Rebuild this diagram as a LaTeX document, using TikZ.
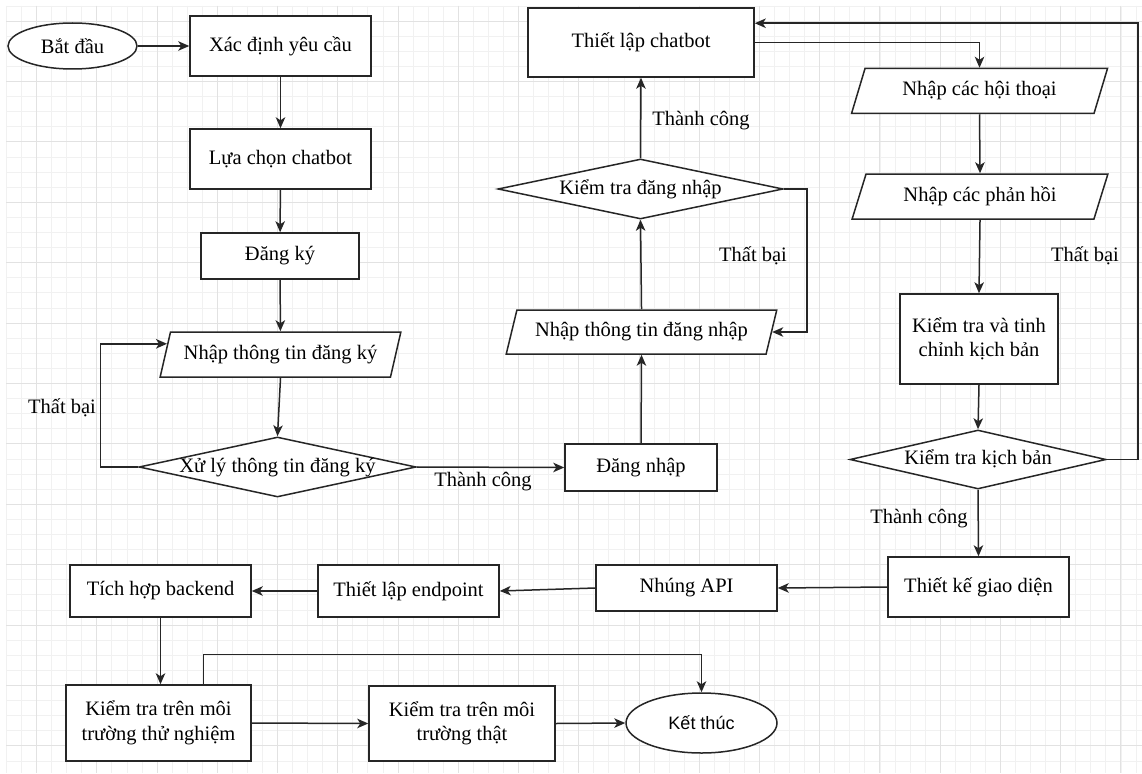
\documentclass[tikz,border=0pt]{standalone}
\usepackage{fontspec}
\setmainfont{Liberation Serif}
\newfontfamily\sansfnt{Liberation Sans}
\usetikzlibrary{shapes.geometric,arrows.meta,calc}

\definecolor{linec}{HTML}{262626}
\definecolor{gridminor}{HTML}{F1F1F1}
\definecolor{gridmajor}{HTML}{E2E2E2}

% text of a decision box: takes no room, so the diamond keeps its given size
\newcommand{\dectext}[1]{\makebox[0pt]{\raisebox{-0.55ex}[0pt][0pt]{#1}}}

\begin{document}
\begin{tikzpicture}[x=1pt,y=-1pt,
  font=\fontsize{20.5}{24.5}\selectfont,
  shapebase/.style={draw=linec, line width=1.5pt, fill=white, inner sep=0pt},
  box/.style={shapebase, rectangle, align=center},
  io/.style={shapebase, trapezium, trapezium left angle=64,
    trapezium right angle=116, trapezium stretches=true},
  dec/.style={shapebase, diamond, aspect=4.6},
  term/.style={shapebase, ellipse},
  flow/.style={draw=linec, line width=1.5pt,
    -{Stealth[length=11pt,width=9.5pt,inset=3pt]}},
  lbl/.style={inner sep=0pt}]

\useasboundingbox (0,0) rectangle (1142,773);

% background grid
\fill[white] (0,0) rectangle (1142,773);
\foreach \k in {0,...,75}{
  \draw[gridminor, line width=0.9pt] ({6.5+15.06*\k},6) -- ({6.5+15.06*\k},773);}
\foreach \k in {0,...,51}{
  \draw[gridminor, line width=0.9pt] (6,{6+15.1*\k}) -- (1142,{6+15.1*\k});}
\foreach \k in {2,6,...,74}{
  \draw[gridmajor, line width=1pt] ({6.5+15.06*\k},6) -- ({6.5+15.06*\k},773);}
\foreach \k in {1,5,...,49}{
  \draw[gridmajor, line width=1pt] (6,{6+15.1*\k}) -- (1142,{6+15.1*\k});}

% registration column
\node[term, minimum width=129pt, minimum height=46pt] (start) at (72.5,46) {Bắt đầu};
\node[box, minimum width=181pt, minimum height=60pt] (req) at (280.5,46) {Xác định yêu cầu};
\node[box, minimum width=181pt, minimum height=60pt] (choose) at (280.5,159) {Lựa chọn chatbot};
\node[box, minimum width=158pt, minimum height=46pt] (reg) at (280,256) {Đăng ký};
\node[io, minimum width=241pt, minimum height=45pt] (nreg) at (280.5,354.5) {Nhập thông tin đăng ký};
\node[dec, minimum width=277pt, minimum height=60pt] (proc) at (277.5,467)
  {\dectext{Xử lý thông tin đăng ký}};

% login column
\node[box, minimum width=152pt, minimum height=47pt] (login) at (641,467.5) {Đăng nhập};
\node[io, minimum width=271pt, minimum height=44pt] (nlogin) at (641.5,332) {Nhập thông tin đăng nhập};
\node[dec, minimum width=285pt, minimum height=60pt] (chk) at (640.5,189)
  {\dectext{Kiểm tra đăng nhập}};
\node[box, minimum width=226pt, minimum height=69pt] (setup) at (641,42.5) {Thiết lập chatbot};

% script column
\node[io, minimum width=256pt, minimum height=45pt] (nhoi) at (979.5,91) {Nhập các hội thoại};
\node[io, minimum width=256pt, minimum height=45pt] (nph) at (980,196.5) {Nhập các phản hồi};
\node[box, minimum width=158pt, minimum height=90pt] (ktc) at (979,339) {Kiểm tra và tinh\\chỉnh kịch bản};
\node[dec, minimum width=256pt, minimum height=59pt] (kkb) at (978,459.5)
  {\dectext{Kiểm tra kịch bản}};

% deployment row
\node[box, minimum width=181pt, minimum height=60pt] (tk) at (978.5,587) {Thiết kế giao diện};
\node[box, minimum width=181pt, minimum height=46pt] (api) at (686.5,588) {Nhúng API};
\node[box, minimum width=181pt, minimum height=52pt] (ep) at (408.5,591) {Thiết lập endpoint};
\node[box, minimum width=181pt, minimum height=52pt] (th) at (160.5,591) {Tích hợp backend};
\node[box, minimum width=185pt, minimum height=76pt] (kt1) at (158.5,723) {Kiểm tra trên môi\\trường thử nghiệm};
\node[box, minimum width=186pt, minimum height=75pt] (kt2) at (462,723.5) {Kiểm tra trên môi\\trường thật};
\node[term, minimum width=151pt, minimum height=60pt,
  font=\sansfnt\fontsize{18}{20}\selectfont] (endn) at (701.5,723) {Kết thúc};

% helper points on borders
\coordinate (nregin) at ($(nreg.top left corner)!0.27!(nreg.bottom left corner)$);
\coordinate (setupin) at ($(setup.north east)+(0,16)$);
\coordinate (kt1out) at ($(kt1.north west)+(138,0)$);

% connectors
\draw[flow] (start) -- (req);
\draw[flow] (req) -- (choose);
\draw[flow] (choose) -- (reg);
\draw[flow] (reg) -- (nreg);
\draw[flow] (nreg.south) -- (proc.north);
\draw[flow] (proc.west) -- ++(-38,0) |- (nregin);
\draw[flow] (proc.east) -- (login.west);
\draw[flow] (login.north) -- (nlogin.south);
\draw[flow] (nlogin.north) -- (chk.south);
\draw[flow] (chk.north) -- (setup.south);
\draw[flow] (chk.east) -- ++(23,0) |- (nlogin.east);
\draw[flow] (setup.east) -| (nhoi.north);
\draw[flow] (nhoi.south) -- (nph.north);
\draw[flow] (nph.south) -- (ktc.north);
\draw[flow] (ktc.south) -- (kkb.north);
\draw[flow] (kkb.east) -- ++(31,0) |- (setupin);
\draw[flow] (kkb.south) -- (tk.north);
\draw[flow] (tk.west) -- (api.east);
\draw[flow] (api.west) -- (ep.east);
\draw[flow] (ep.west) -- (th.east);
\draw[flow] (th.south) -- (th.south |- kt1.north);
\draw[flow] (kt1.east) -- (kt2.west);
\draw[flow] (kt2.east) -- (endn.west);
\draw[flow] (kt1out) -- ++(0,-30) -| (endn.north);

% branch labels
\node[lbl] (l1) at (62,408) {Thất bại};
\node[lbl] (l2) at (483,482) {Thành công};
\node[lbl] (l3) at (701,121) {Thành công};
\node[lbl] (l4) at (753,256) {Thất bại};
\node[lbl] (l5) at (1085,256) {Thất bại};
\node[lbl] (l6) at (919,519) {Thành công};
\end{tikzpicture}
\end{document}
